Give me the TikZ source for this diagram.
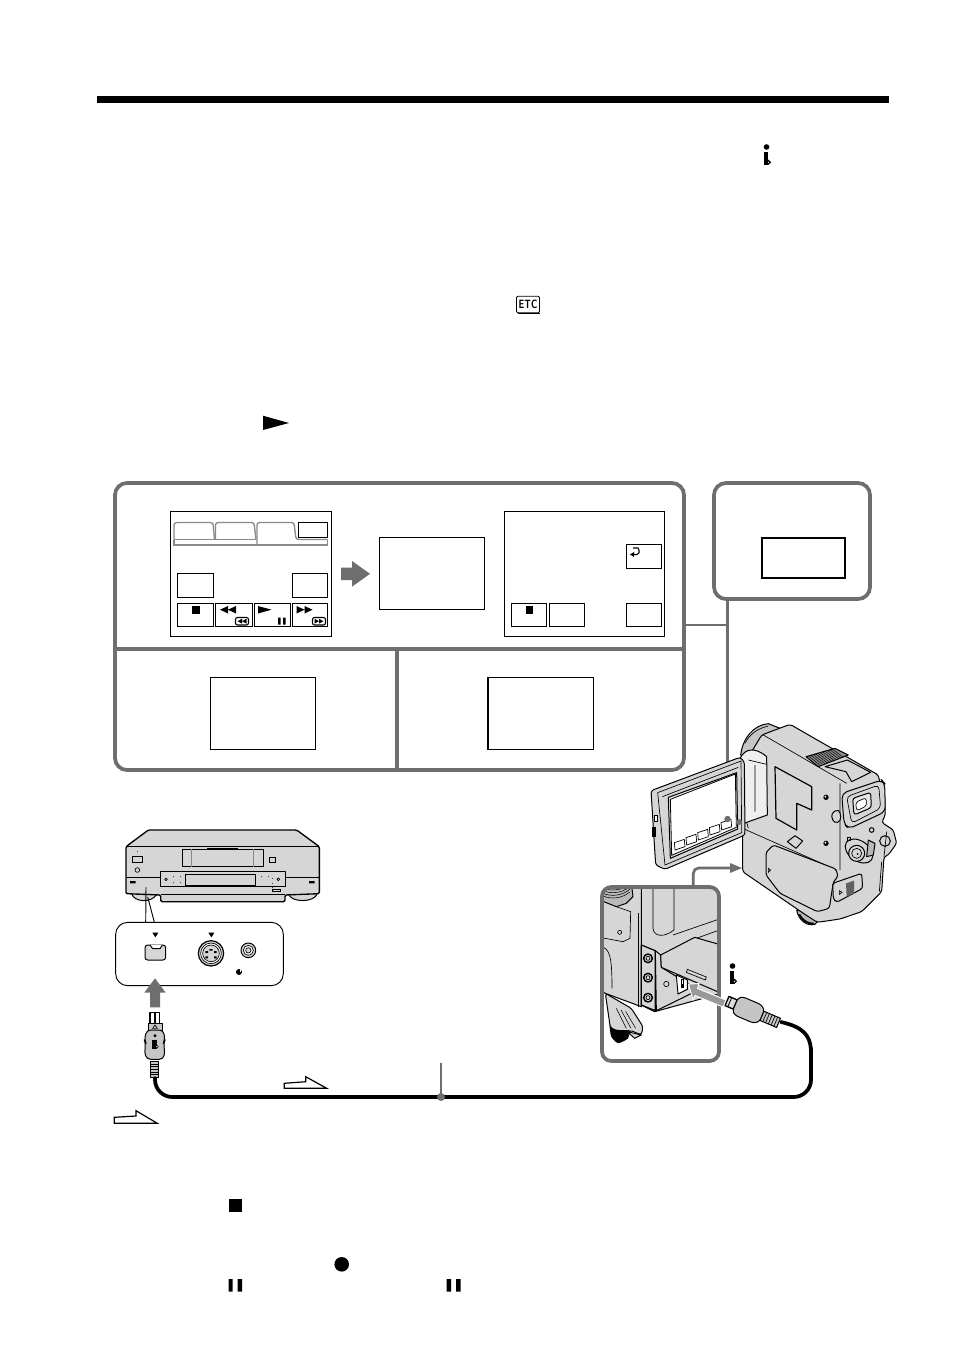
\documentclass[tikz,border=0pt]{standalone}
\usepackage{tikz}
\definecolor{framegray}{HTML}{6E6E6E}
\definecolor{bodygray}{HTML}{D6D6D6}
\definecolor{darkgray}{HTML}{8A8A8A}
\tikzset{
	frameline/.style={draw=framegray, line width=2.8pt},
	calloutline/.style={draw=framegray, line width=2pt},
	screenbox/.style={draw=black, fill=white, line width=0.7pt},
	touchbox/.style={draw=black, fill=white, line width=0.7pt},
	bodypart/.style={draw=black, fill=bodygray, line width=0.75pt, line join=round},
	thinline/.style={draw=black, line width=0.5pt},
	hintarrow/.style={draw=black, fill=white, line width=0.9pt},
	cablepath/.style={draw=black, line width=2.8pt, line cap=round}
}
\newcommand{\ilinkicon}[2]{%
	\fill (#1,#2) circle (2.8);
	\fill (#1-2.4,#2+5) rectangle (#1+1.6,#2+18);
	\filldraw[fill=white, line width=0.9pt] (#1+2,#2+15.3) circle (1.8);
}
\newcommand{\stopicon}[2]{\fill (#1,#2) rectangle (#1+7.6,#2+8);}
\newcommand{\rewicon}[2]{\fill (#1,#2+3.7) -- (#1+8,#2) -- (#1+8,#2+7.5) -- cycle (#1+8,#2+3.7) -- (#1+16,#2) -- (#1+16,#2+7.5) -- cycle;}
\newcommand{\ffwicon}[2]{\fill (#1+8,#2+3.7) -- (#1,#2) -- (#1,#2+7.5) -- cycle (#1+16,#2+3.7) -- (#1+8,#2) -- (#1+8,#2+7.5) -- cycle;}

\begin{document}
\begin{tikzpicture}[x=0.75pt, y=-0.75pt]
	\useasboundingbox (0,0) rectangle (954,1352);
	\fill[white] (0,0) rectangle (954,1352);

	% Page rule
	\fill (97,96) rectangle (889,103);

	% Inline symbols of the text
	\ilinkicon{766.5}{147}
	\node[draw=black, fill=white, rounded corners=1pt, line width=0.7pt, minimum width=23pt, minimum height=12.4pt, inner sep=0pt, xscale=0.75, font=\sffamily\bfseries\fontsize{9}{9}\selectfont] (etc) at (528,304.5) {ETC};
	\draw[line width=1pt] (517.5,313.5) -- (539.5,313.5);
	\fill (263,415.7) -- (289,423) -- (263,430) -- cycle;

	% Main frame
	\draw[frameline, rounded corners=9pt] (115,483) rectangle (684,770);
	\draw[frameline] (115,649) -- (684,649);
	\draw[frameline] (397,649) -- (397,770);

	% Right frame
	\draw[frameline, rounded corners=9pt] (714,483) rectangle (870,599);
	\draw[screenbox, line width=1.5pt] (762,538) rectangle (845,578);

	% Callout lines of the frames
	\draw[calloutline] (685,625) -- (727,625);
	\draw[calloutline] (727.5,600) -- (727.5,819);

	% Screen 1
	\draw[screenbox] (170.5,511.5) rectangle (331.5,636.5);
	\draw[draw=darkgray, line width=1pt, rounded corners=2pt] (174,539.5) -- (174,522.5) -- (213,522.5) -- (214.5,539.5);
	\draw[draw=darkgray, line width=1pt, rounded corners=2pt] (215.5,539.5) -- (215.5,522.5) -- (254,522.5) -- (256,539.5);
	\draw[draw=darkgray, line width=1pt, rounded corners=2pt] (257,545) -- (257,522.5) -- (294,522.5) -- (296,539.5) -- (327.5,539.5);
	\draw[draw=darkgray, line width=1pt] (174,539.5) -- (256,539.5) (174,539.5) -- (174,545) -- (327.5,545) -- (327.5,539.5);
	\draw[touchbox] (298.5,522.5) rectangle (327.5,537.5);
	\draw[touchbox] (177.5,573.5) rectangle (213.5,597.5);
	\draw[touchbox] (292.5,573.5) rectangle (327.5,597.5);
	\draw[touchbox] (177.5,603.5) rectangle (213.5,626.5);
	\draw[touchbox] (215.5,603.5) rectangle (252,626.5);
	\draw[touchbox] (254,603.5) rectangle (290,626.5);
	\draw[touchbox] (292.5,603.5) rectangle (327.5,626.5);
	\stopicon{192}{606}
	\rewicon{220}{606}
	\fill (258,606) -- (271.5,609.7) -- (258,613.5) -- cycle;
	\fill (278,617.5) rectangle (280.7,624.7) (283,617.5) rectangle (285.7,624.7);
	\ffwicon{296.5}{606}
	\draw[draw=black, fill=white, rounded corners=1.5pt, line width=0.8pt] (235.5,617.5) rectangle (248.5,625);
	\fill (237.5,621.2) -- (242,618.8) -- (242,623.6) -- cycle (242,621.2) -- (246.5,618.8) -- (246.5,623.6) -- cycle;
	\draw[draw=black, fill=white, rounded corners=1.5pt, line width=0.8pt] (312.5,617.5) rectangle (325.5,625);
	\fill (319,621.2) -- (314.5,618.8) -- (314.5,623.6) -- cycle (323.5,621.2) -- (319,618.8) -- (319,623.6) -- cycle;

	% Arrow between the screens
	\fill[framegray] (341,567.5) -- (352,567.5) -- (352,561) -- (370,573.8) -- (352,586.7) -- (352,580) -- (341,580) -- cycle;

	% Screen 2
	\draw[screenbox] (379.5,537.5) rectangle (484.5,609.5);
	\draw[line width=1.1pt] (379.5,537.5) -- (484.5,537.5);

	% Screen 3
	\draw[screenbox] (504.5,511.5) rectangle (664.5,636.5);
	\draw[touchbox] (626.5,544.5) rectangle (661.5,568.5);
	\draw[line width=0.8pt] (633,548) -- (638,548) -- (639,550) -- (639,553) -- (637,554.5) -- (632,554.5);
	\fill (630,554.5) -- (634,552) -- (634,557) -- cycle;
	\draw[touchbox] (511.5,603.5) rectangle (546.5,626.5);
	\draw[touchbox] (549.5,603.5) rectangle (584.5,626.5);
	\draw[touchbox] (626.5,603.5) rectangle (661.5,626.5);
	\stopicon{525.5}{606}

	% Screens 4 and 5
	\draw[screenbox] (210.5,677.5) rectangle (315.5,749.5);
	\draw[line width=1.1pt] (210.5,677.5) -- (315.5,677.5);
	\draw[screenbox] (488,677.5) rectangle (593.5,749.5);
	\draw[line width=1.1pt] (593.5,677.5) -- (488,677.5) -- (488,749.5);

	% VCR
	\begin{scope}[shift={(120,825)}, scale=1/3]
		\draw[bodypart] (35,205) .. controls (40,232) and (95,235) .. (110,208) -- cycle;
		\draw[bodypart] (505,205) .. controls (510,234) and (585,234) .. (592,205) -- cycle;
		\draw[bodypart, line width=1pt, rounded corners=1pt] (18,65) -- (85,15) -- (530,15) -- (598,65) -- (598,206) -- (495,210) -- (495,230) -- (122,230) -- (122,210) -- (18,206) -- cycle;
		\draw[thinline] (18,65) -- (598,65);
		\draw[thinline] (18,158) -- (122,158) (495,158) -- (598,158);
		\draw[bodypart] (122,140) rectangle (495,185);
		\draw[thinline] (122,207) -- (495,207);
		\draw[thinline] (195,148) rectangle (405,180);
		\draw[thinline] (187,72) rectangle (430,125);
		\draw[line width=0.7pt, draw=darkgray] (213,72) -- (213,125) (400,72) -- (400,125);
		\draw[line width=1pt] (262,72) -- (355,72);
		\draw[thinline] (38,93) rectangle (68,112);
		\fill (52,80) circle (1.5);
		\draw[thinline] (52,135) circle (7);
		\draw[thinline] (447,97) rectangle (467,113);
		\fill (30,168) rectangle (47,175) (567,168) rectangle (584,175);
		\draw[thinline] (457,192) rectangle (482,200);
		\draw[thinline] (138,163) circle (4);
		\draw[thinline] (475,163) circle (4);
		\foreach \dotx/\doty in {160/155, 182/155, 160/173, 182/173, 425/155, 445/155, 458/160, 458/175, 458/188} {
			\fill (\dotx,\doty) circle (1.5);
		}
	\end{scope}

	% Lines down to the sockets
	\draw[line width=0.7pt] (146,887) -- (145.7,922);
	\draw[line width=0.7pt] (147.7,897) -- (154.3,922);

	% Socket panel
	\begin{scope}[shift={(100,810)}, scale=1/3]
		\draw[draw=black, fill=white, line width=0.7pt, rounded corners=9pt] (47,337) rectangle (550,527);
		\fill (157,368) -- (175,368) -- (166,382) -- cycle;
		\fill (325,368) -- (343,368) -- (334,382) -- cycle;
		\draw[bodypart, rounded corners=2pt] (135,405) rectangle (197,450);
		\draw[line width=0.7pt, fill=white] (150,405) -- (158,416) -- (180,416) -- (187,405);
		\draw[bodypart, line width=0.9pt] (333,430) circle (38);
		\draw[thinline, fill=white] (333,430) circle (31);
		\draw[thinline, fill=bodygray] (333,430) circle (25);
		\fill (316,423) rectangle (324,429) (342,423) rectangle (350,429) (316,439) rectangle (324,445) (342,439) rectangle (350,445) (328,417) rectangle (338,422);
		\draw[bodypart] (445,421) circle (22);
		\draw[thinline, fill=white] (445,421) circle (15);
		\draw[thinline, fill=bodygray] (445,421) circle (8);
		\fill (417,486) circle (9);
		\fill[white] (419,478) rectangle (423,487);
	\end{scope}

	% Arrow up into the socket
	\fill[framegray] (155,978.3) -- (165.7,992.7) -- (160,992.7) -- (160,1007.3) -- (150,1007.3) -- (150,992.7) -- (144.3,992.7) -- cycle;

	% Plug at the VCR
	\begin{scope}[shift={(100,810)}, scale=1/3]
		\draw[bodypart, fill=white, line width=1pt] (150,607) rectangle (178,642);
		\fill (161,607) rectangle (167,642);
		\draw[bodypart, fill=darkgray!50] (144,640) rectangle (187,662);
		\draw[line width=0.5pt] (158,655) -- (165,645) -- (172,655) -- cycle;
		\draw[bodypart, fill=darkgray!50, rounded corners=3pt] (140,660) -- (190,660) -- (195,690) -- (190,700) -- (195,725) -- (190,748) -- (140,748) -- (133,725) -- (138,700) -- (133,690) -- cycle;
		\fill (165,677) circle (5);
		\fill (157,689) rectangle (171,716);
		\filldraw[fill=white, line width=0.4pt] (171,710) circle (4);
		\draw[bodypart, fill=darkgray!50] (151,754) rectangle (176,802);
		\foreach \ribstep in {762,770,...,794} {
			\draw[line width=0.6pt] (151,\ribstep) -- (176,\ribstep);
		}
	\end{scope}

	% Cable
	\draw[cablepath, rounded corners=13pt] (155,1078) -- (155,1097) -- (811,1097) -- (811,1048);
	\draw[cablepath] (811,1050) .. controls (810,1035) and (803,1027) .. (781,1022);
	\draw[line width=1pt, draw=framegray] (441,1063) -- (441,1097);
	\fill[framegray] (441,1097) circle (4);

	% Hint arrows
	\draw[hintarrow] (284.3,1083.3) -- (305.7,1081.7) -- (305.7,1076.7) -- (326.7,1088.3) -- (284.3,1088.3) -- cycle;
	\draw[hintarrow] (114.3,1117.3) -- (136,1116) -- (136,1110.7) -- (157.3,1123.3) -- (114.3,1123.3) -- cycle;

	% Camcorder body
	\begin{scope}[shift={(740,715)}, scale=1/3]
		\draw[bodypart, fill=darkgray!50] (2,120) .. controls (8,70) and (40,30) .. (85,26) -- (120,40) -- (60,90) -- (30,140) -- cycle;
		\draw[thinline] (15,85) .. controls (30,55) and (55,40) .. (85,33);
		\draw[bodypart, fill=darkgray!60] (170,585) .. controls (175,615) and (200,635) .. (225,628) -- (232,620) -- (190,590) -- cycle;
		\draw[line width=1.4pt] (178,598) .. controls (185,615) and (205,628) .. (222,626);
		\draw[bodypart, rounded corners=2pt] (35,110) -- (65,60) -- (150,28) -- (415,180) -- (420,205) -- (432,205) -- (436,300) -- (425,322) -- (460,345) -- (470,385) -- (445,420) -- (432,425) -- (425,530) -- (365,590) -- (300,612) -- (232,622) -- (190,595) -- (8,470) -- (8,340) -- (0,330) -- (0,130) -- cycle;
		% back of the hinge
		\draw[bodypart, fill=white!60!bodygray] (0,130) .. controls (15,100) and (45,95) .. (80,125) -- (82,300) -- (20,322) -- (0,330) -- cycle;
		\draw[thinline] (45,150) -- (45,290) (25,135) -- (80,148) (20,322) -- (25,340);
		% recess
		\draw[bodypart, line width=0.9pt] (105,155) -- (215,215) -- (215,285) -- (170,265) -- (170,345) -- (108,310) -- cycle;
		\draw[thinline] (8,340) -- (290,465) (70,60) -- (320,205) (300,205) -- (300,465);
		\fill (258,247) circle (8) (258,385) circle (8);
		\fill[white] (256,245) circle (3) (256,383) circle (3);
		% shoe
		\draw[bodypart, fill=darkgray] (198,125) -- (285,100) -- (325,120) -- (235,155) -- cycle;
		\foreach \ribx in {0,7,...,70} {
			\draw[line width=0.35pt] (205+\ribx,123-\ribx/3.2) -- (240+\ribx,150-\ribx/3);
		}
		\draw[bodypart] (255,155) -- (322,135) -- (392,172) -- (335,200) -- (318,170) -- cycle;
		% lever
		\draw[bodypart] (142,380) -- (165,362) -- (188,378) -- (168,400) -- cycle;
		% eyecup
		\draw[bodypart, rounded corners=4pt] (305,235) -- (425,195) -- (434,205) -- (436,290) -- (325,342) -- (312,325) -- cycle;
		\draw[thinline, rounded corners=3pt] (320,245) -- (416,210) -- (422,280) -- (335,325) -- cycle;
		\draw[bodypart, fill=white!40!bodygray, rounded corners=2pt] (338,250) -- (392,232) -- (394,278) -- (342,300) -- cycle;
		\draw[thinline, fill=white, rounded corners=2pt] (347,262) -- (378,248) -- (380,272) -- (350,288) -- cycle;
		\draw[bodypart, rounded corners=3pt] (272,295) -- (298,282) -- (304,318) -- (282,326) -- cycle;
		% dial
		\draw[bodypart, rotate around={-35:(357,408)}] (357,408) ellipse (46 and 30);
		\draw[bodypart, fill=darkgray!60] (385,375) -- (405,385) -- (400,420) -- (380,425) -- cycle;
		\draw[bodypart] (350,415) circle (24);
		\draw[thinline] (350,415) circle (15);
		\fill (353,417) circle (3);
		\draw[bodypart] (395,345) circle (7);
		\draw[bodypart] (435,378) circle (16);
		\draw[thinline] (322,368) rectangle (330,376);
		\draw[thinline] (425,440) -- (418,530) (432,425) -- (440,350);
		% battery
		\draw[bodypart, rounded corners=2pt] (78,412) -- (100,390) -- (288,462) -- (294,485) -- (280,500) -- (268,580) -- (232,590) -- (120,535) -- (78,480) -- cycle;
		\draw[thinline] (85,460) -- (92,465) -- (85,472) -- cycle;
		% switch
		\draw[bodypart, rounded corners=2pt] (278,505) -- (365,475) -- (368,520) -- (290,562) -- (280,552) -- cycle;
		\fill[darkgray!70!black] (318,505) -- (342,497) -- (342,535) -- (320,545) -- cycle;
		\draw[thinline] (298,527) -- (306,532) -- (298,538) -- cycle;
	\end{scope}

	% LCD panel
	\begin{scope}[shift={(645,750)}, scale=1/3]
		\draw[bodypart, rounded corners=2pt] (18,122) -- (285,22) -- (298,35) -- (300,255) -- (60,358) -- (32,345) -- cycle;
		\draw[thinline] (38,128) -- (288,33) -- (290,248) -- (60,345) -- cycle;
		\draw[thinline] (52,140) -- (280,52);
		\draw[bodypart, fill=white!50!bodygray] (70,142) -- (275,68) -- (278,237) -- (76,325) -- cycle;
		\draw[screenbox, line width=0.6pt] (76,148) -- (271,72) -- (274,232) -- (80,316) -- cycle;
		\foreach \boxstep in {0,1,2,3,4} {
			\draw[screenbox, line width=0.5pt] (88+35*\boxstep,278-15*\boxstep) -- (118+35*\boxstep,268-15*\boxstep) -- (120+35*\boxstep,290-15*\boxstep) -- (90+35*\boxstep,300-15*\boxstep) -- cycle;
		}
		\draw[thinline, fill=white] (27,196) rectangle (36,214);
		\fill (20,230) rectangle (32,260);
	\end{scope}
	\fill[framegray] (727.5,819) circle (3.2);
	\fill[framegray] (739,822) circle (3);

	% Arrow from the inset to the camcorder
	\draw[calloutline, rounded corners=4pt] (693.3,887) -- (693.3,868) -- (731,868);
	\fill[framegray] (730,863) -- (742,868) -- (730,873) -- cycle;

	% Inset
	\begin{scope}
		\clip[rounded corners=7pt] (602,887) rectangle (719,1061);
		\begin{scope}[shift={(598,880)}, scale=1/3]
			\fill[white] (13,20) rectangle (362,545);
			\draw[bodypart] (130,10) -- (370,10) -- (370,340) -- (170,395) -- (130,375) -- cycle;
			\draw[bodypart] (5,10) -- (130,10) -- (130,380) -- (22,340) -- (5,330) -- cycle;
			\draw[bodypart, fill=darkgray!60] (5,10) -- (100,10) -- (105,50) -- (85,70) -- (55,80) -- (5,60) -- cycle;
			\foreach \ridgey in {20,28,36,44} {
				\draw[line width=0.4pt] (13,\ridgey+3) .. controls (40,\ridgey+16) and (75,\ridgey+10) .. (95,\ridgey-8);
			}
			\draw[thinline] (55,80) -- (98,95) -- (96,175) -- (75,185) -- (5,172);
			\draw[thinline] (122,100) -- (122,380);
			\draw[thinline] (5,198) .. controls (35,205) and (42,225) .. (42,325);
			\draw[thinline] (65,157) circle (6);
			\draw[thinline] (165,10) -- (165,145) .. controls (168,172) and (200,172) .. (228,150) -- (228,10);
			\draw[thinline] (225,165) -- (370,115);
			\draw[thinline] (295,175) -- (370,148);
			% connector panel
			\draw[bodypart, line width=0.9pt] (130,195) -- (172,212) -- (172,392) -- (130,375) -- cycle;
			\foreach \jacky in {235,293,353} {
				\draw[bodypart, line width=1.1pt] (150,\jacky) circle (13);
				\draw[thinline] (150,\jacky) circle (6);
			}
			% slab and port
			\draw[bodypart] (172,212) -- (188,225) -- (190,262) -- (285,320) -- (285,338) -- (175,392) -- cycle;
			\draw[bodypart] (188,225) -- (290,172) -- (370,195) -- (370,340) -- (190,262) -- cycle;
			\draw[thinline] (268,268) -- (325,291) -- (322,300) -- (265,277) -- cycle;
			\draw[thinline] (205,312) circle (8);
			\draw[screenbox] (235,285) -- (268,300) -- (268,328) -- (240,342) -- cycle;
			\fill (250,298) rectangle (258,325);
			\fill[white] (252,300) rectangle (256,312);
			% grip
			\draw[bodypart, rounded corners=2pt] (22,340) -- (100,385) -- (135,440) -- (130,465) -- (95,450) -- (90,475) -- (60,490) -- (40,470) -- (35,430) -- cycle;
			\foreach \gripstep in {0,14,28} {
				\draw[line width=0.4pt] (55+\gripstep,385+\gripstep/3) -- (85+\gripstep,445);
			}
			\fill (35,430) .. controls (40,455) and (70,450) .. (95,450) -- (90,475) -- (60,490) -- (40,470) -- cycle;
			\draw[bodypart] (88,455) -- (130,465) -- (110,475) -- cycle;
		\end{scope}
	\end{scope}
	\draw[frameline, rounded corners=7pt] (602,887) rectangle (719,1061);

	% Arrow to the DV port
	\draw[draw=white, fill=framegray!70, line width=0.7pt] (688.5,984) -- (699,983.5) -- (697.5,988.5) -- (726,1000) -- (723,1007) -- (695,995.5) -- (693,1000) -- cycle;

	% Plug at the camcorder
	\ilinkicon{732.5}{966}
	\begin{scope}[shift={(727,1001)}, rotate=-23]
		\draw[bodypart, fill=darkgray!30, line width=1pt] (0,-5) rectangle (9,5);
		\draw[line width=0.6pt] (3,-5) -- (3,5);
		\draw[bodypart, fill=darkgray!50, rounded corners=2pt] (9,-7) -- (13,-10) -- (33,-10) -- (38,-6) -- (38,6) -- (33,10) -- (13,10) -- (9,7) -- cycle;
		\draw[bodypart, fill=darkgray!50] (38,-5) rectangle (56,5);
		\foreach \ribx in {41,44,...,53} {
			\draw[line width=0.5pt] (\ribx,-5) -- (\ribx,5);
		}
	\end{scope}

	% Symbols below the diagram
	\fill (228.5,1199) rectangle (241.7,1211.7);
	\fill (341.7,1264.3) circle (7.3);
	\fill (228.5,1279) rectangle (232.7,1291.7) (237.5,1279) rectangle (242,1291.7);
	\fill (446.7,1279) rectangle (451,1291.7) (456,1279) rectangle (460.7,1291.7);
\end{tikzpicture}
\end{document}
